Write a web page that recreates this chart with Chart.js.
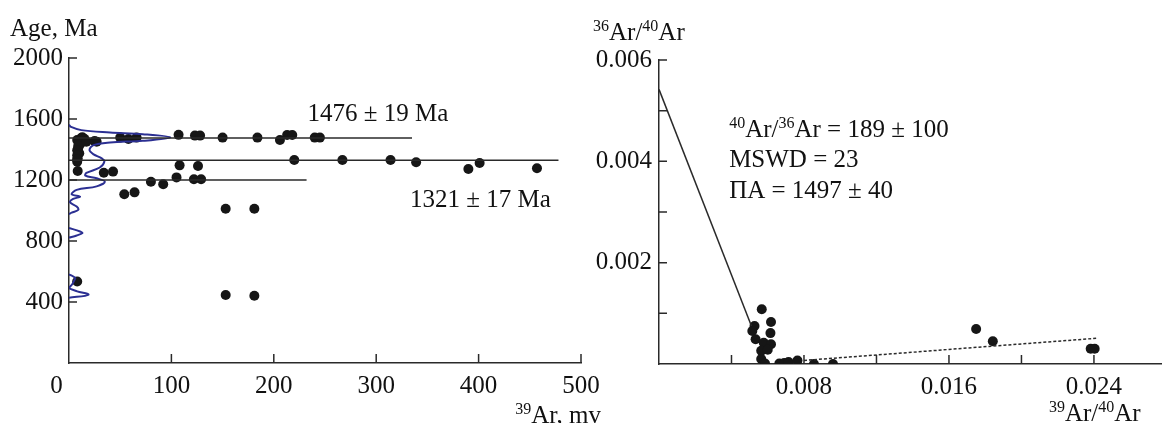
<!DOCTYPE html>
<html>
<head>
<meta charset="utf-8">
<script src="https://cdn.jsdelivr.net/npm/chart.js@4.4.1/dist/chart.umd.min.js"></script>
<style>
  body { margin: 0; background: #fff; }
  #wrap { position: relative; width: 1166px; height: 423px; overflow: hidden; }
  canvas { position: absolute; top: 0; }
</style>
</head>
<body>
<div id="wrap">
  <canvas id="ageChart" width="620" height="423" style="left:0"></canvas>
  <canvas id="isoChart" width="586" height="423" style="left:580px"></canvas>
</div>
<script>
// Left panel: step ages vs 39Ar signal
const argonSignal = [13, 8, 11, 9, 10, 8.5, 8, 12, 15, 10, 9, 8, 8, 8, 17, 27, 25, 8.5, 34, 43,
    50, 58, 66, 54, 64, 80, 92, 105, 108, 107, 123, 128, 122, 129, 126, 150, 153, 181,
    184, 206, 213, 218, 220, 240, 245, 267, 314, 339, 390, 401, 457, 8, 153, 181];
const stepAges = [1480, 1462, 1436, 1408, 1375, 1342, 1320, 1475, 1470, 1450, 1425, 1395, 1360, 1335, 1451, 1451, 1455, 1259, 1248, 1255,
    1478, 1469, 1478, 1106, 1119, 1189, 1172, 1217, 1296, 1496, 1491, 1491, 1205, 1205, 1292, 1478, 1012, 1012,
    1478, 1462, 1495, 1495, 1331, 1478, 1478, 1331, 1331, 1316, 1272, 1311, 1277, 535, 446, 441];

// plateau lines
const plateauAges = [1476, 1330, 1200];
const plateauEnds = [335, 478, 232];

// probability density curve (null = break)
const densityAges = [1562, 1548, 1527, 1512, 1500, 1479, 1457, 1446, 1429, 1396, 1368, 1342, 1320, 1282, 1246, 1228,
    1211, 1189, 1158, 1135, 1107, 1091, 1076, 1054, 1026, 1004, 986, 976, null,
    886, 862, 852, 836, 822, null, 582, 558, 540, 515, 492, 470, 448, 427];
const densityLevels = [0, 2, 12, 40, 72, 99, 72, 40, 24, 20, 24, 32, 34.5, 30, 17, 16,
    27, 35, 27, 7.5, 2.6, 10.8, 4, 1, 7.5, 9, 2.6, 0, null,
    0, 10.8, 13, 7.5, 0, null, 0, 6, 5, 3, 0, 8, 19, 0];

// Right panel: isochron
const ratio39 = [0.00567, 0.00527, 0.00515, 0.00618, 0.00615, 0.00533, 0.00578, 0.00618, 0.00564, 0.00600,
    0.00564, 0.00585, 0.00664, 0.00691, 0.00715, 0.00764, 0.00855, 0.00960, 0.01750, 0.01842, 0.02382, 0.02404];
const ratio36 = [0.00108, 0.00075, 0.00065, 0.00083, 0.00061, 0.00049, 0.00042, 0.00039, 0.00026, 0.00028,
    0.00010, 0.00001, 0.00001, 0.00002, 0.00004, 0.00007, 0.00000, 0.00000, 0.00069, 0.00045, 0.00030, 0.00030];
const mixLineX = [0, 0.0051];
const mixLineY = [0.00542, 0.00075];
const trendLineX = [0.008, 0.0242];
const trendLineY = [0.00007, 0.00051];

const SERIF = '"Liberation Serif", "Times New Roman", serif';
const INK = '#111';
const AXIS = '#2a2a2a';
const BLUE = '#2b2f92';

function drawRich(ctx, parts, x, y, align) {
    // parts: [text, isSuperscript]
    const big = '25px ' + SERIF, small = '16px ' + SERIF;
    let w = 0;
    parts.forEach(p => { ctx.font = p[1] ? small : big; w += ctx.measureText(p[0]).width; });
    let cx = align === 'right' ? x - w : x;
    ctx.fillStyle = INK;
    ctx.textBaseline = 'alphabetic';
    ctx.textAlign = 'left';
    parts.forEach(p => {
        ctx.font = p[1] ? small : big;
        ctx.fillText(p[0], cx, p[1] ? y - 9 : y);
        cx += ctx.measureText(p[0]).width;
    });
}

function inwardTicks(chart) {
    const {ctx, scales: {x, y}} = chart;
    ctx.save();
    ctx.strokeStyle = AXIS;
    ctx.lineWidth = 1.5;
    ctx.beginPath();
    x.ticks.forEach(t => {
        if (t.value <= x.min + 1e-9) return;
        const px = x.getPixelForValue(t.value);
        ctx.moveTo(px, x.top);
        ctx.lineTo(px, x.top - 9);
    });
    y.ticks.forEach(t => {
        if (t.value <= y.min + 1e-9) return;
        const py = y.getPixelForValue(t.value);
        ctx.moveTo(y.right, py);
        ctx.lineTo(y.right + 8, py);
    });
    ctx.stroke();
    ctx.restore();
}

const tickFont = { family: SERIF, size: 25 };

function lineSet(xs, ys, color, width, dash) {
    return {
        data: xs.map((v, i) => ({ x: v, y: ys[i] })),
        showLine: true,
        borderColor: color,
        borderWidth: width,
        borderDash: dash || [],
        pointRadius: 0,
        tension: 0
    };
}

const ageLabels = {
    id: 'ageLabels',
    afterDraw(chart) {
        inwardTicks(chart);
        const {ctx, chartArea, scales: {x, y}} = chart;
        ctx.save();
        drawRich(ctx, [['Age, Ma', false]], chartArea.left - 59, 36);
        drawRich(ctx, [['1476 ± 19 Ma', false]], x.getPixelForValue(233), y.getPixelForValue(1586));
        drawRich(ctx, [['1321 ± 17 Ma', false]], x.getPixelForValue(333), y.getPixelForValue(1025));
        drawRich(ctx, [['39', true], ['Ar, mv', false]], chartArea.right + 20, 423, 'right');
        ctx.restore();
    }
};

new Chart(document.getElementById('ageChart'), {
    type: 'scatter',
    data: {
        datasets: [
            ...plateauAges.map((a, i) => lineSet([0, plateauEnds[i]], [a, a], AXIS, 1.5)),
            Object.assign(lineSet(densityLevels, densityAges, BLUE, 2), { tension: 0.35, spanGaps: false }),
            {
                data: argonSignal.map((v, i) => ({ x: v, y: stepAges[i] })),
                pointRadius: 5,
                pointBackgroundColor: '#161616',
                pointBorderWidth: 0
            }
        ]
    },
    options: {
        responsive: false,
        animation: false,
        layout: { padding: { top: 58, right: 39, left: 0, bottom: 0 } },
        plugins: { legend: { display: false }, tooltip: { enabled: false } },
        scales: {
            x: {
                type: 'linear', min: 0, max: 500,
                grid: { display: false, drawTicks: false },
                border: { color: AXIS, width: 1.5 },
                ticks: { stepSize: 100, font: tickFont, color: INK, padding: 8, maxRotation: 0,
                    callback: v => v === 0 ? '0\u2007\u2007' : String(v) },
                afterFit: s => { s.height = 60; }
            },
            y: {
                type: 'linear', min: 0, max: 2000,
                grid: { display: false, drawTicks: false },
                border: { color: AXIS, width: 1.5 },
                ticks: { stepSize: 400, font: tickFont, color: INK, padding: 6,
                    callback: v => v === 0 ? '' : String(v) },
                afterFit: s => { s.width = 69; }
            }
        }
    },
    plugins: [ageLabels]
});

const isoLabels = {
    id: 'isoLabels',
    afterDraw(chart) {
        inwardTicks(chart);
        const {ctx, chartArea, scales: {x, y}} = chart;
        ctx.save();
        drawRich(ctx, [['36', true], ['Ar/', false], ['40', true], ['Ar', false]], chartArea.left - 66, 40);
        const tx = x.getPixelForValue(0.00387), ty = y.getPixelForValue(0.00449);
        drawRich(ctx, [['40', true], ['Ar/', false], ['36', true], ['Ar = 189 ± 100', false]], tx, ty);
        drawRich(ctx, [['MSWD = 23', false]], tx, ty + 30);
        drawRich(ctx, [['ПA = 1497 ± 40', false]], tx, ty + 61);
        drawRich(ctx, [['39', true], ['Ar/', false], ['40', true], ['Ar', false]], x.getPixelForValue(0.0279) - 24, 421, 'right');
        ctx.restore();
    }
};

new Chart(document.getElementById('isoChart'), {
    type: 'scatter',
    data: {
        datasets: [
            lineSet(mixLineX, mixLineY, AXIS, 1.5),
            lineSet(trendLineX, trendLineY, AXIS, 1.5, [3, 2]),
            {
                data: ratio39.map((v, i) => ({ x: v, y: ratio36[i] })),
                pointRadius: 5,
                pointBackgroundColor: '#161616',
                pointBorderWidth: 0
            }
        ]
    },
    options: {
        responsive: false,
        animation: false,
        layout: { padding: { top: 60, right: 0, left: 0, bottom: 0 } },
        plugins: { legend: { display: false }, tooltip: { enabled: false } },
        scales: {
            x: {
                type: 'linear', min: 0, max: 0.0277,
                grid: { display: false, drawTicks: false },
                border: { color: AXIS, width: 1.5 },
                ticks: { stepSize: 0.004, includeBounds: false, font: tickFont, color: INK, padding: 8, maxRotation: 0,
                    autoSkip: false,
                    callback: v => { const k = Math.round(v * 1000); return k > 0 && k % 8 === 0 ? (k / 1000).toFixed(3) : ''; } },
                afterFit: s => { s.height = 59; }
            },
            y: {
                type: 'linear', min: 0, max: 0.006,
                grid: { display: false, drawTicks: false },
                border: { color: AXIS, width: 1.5 },
                ticks: { stepSize: 0.001, font: tickFont, color: INK, padding: 7, autoSkip: false,
                    callback: v => { const k = Math.round(v * 1000); return k > 0 && k % 2 === 0 ? (k / 1000).toFixed(3) : ''; } },
                afterFit: s => { s.width = 79; }
            }
        }
    },
    plugins: [isoLabels]
});
</script>
</body>
</html>
